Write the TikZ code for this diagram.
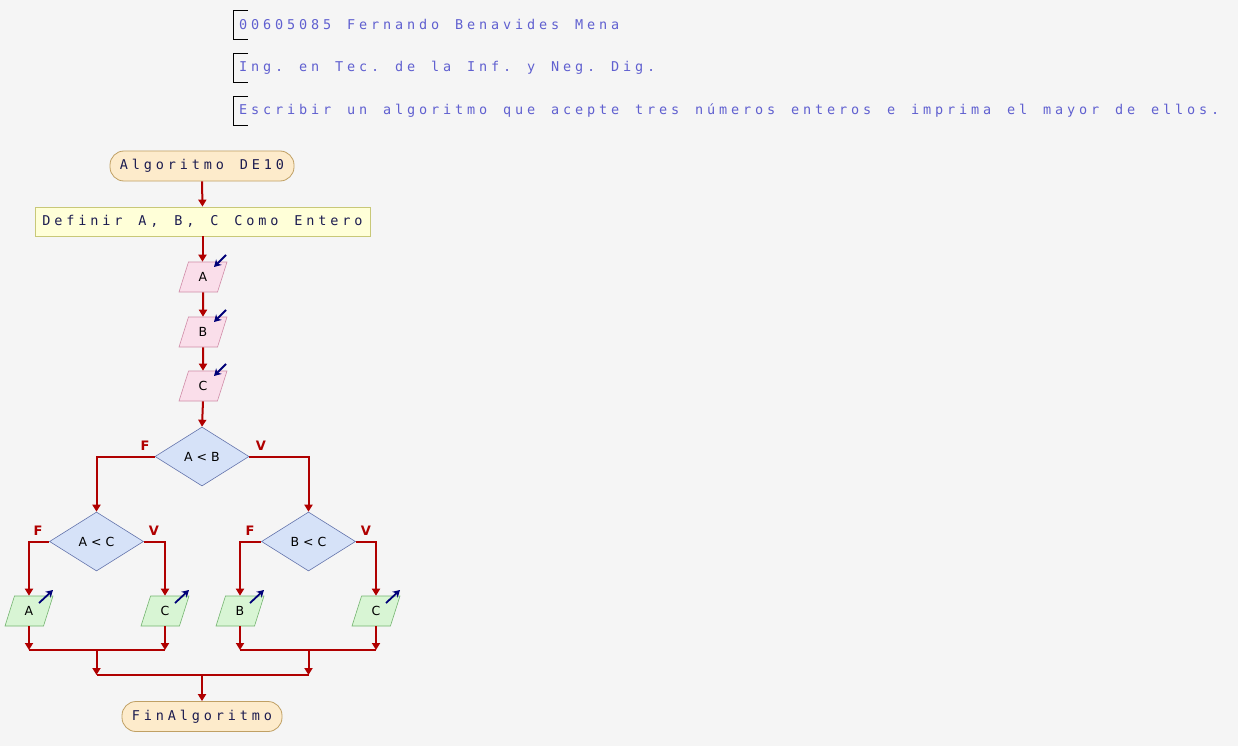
\documentclass[tikz,border=0pt]{standalone}
\usepackage{fontspec}
\usetikzlibrary{arrows.meta,shapes.geometric}
\newfontfamily\codefont{DejaVu Sans Mono}
\newfontfamily\plainfont{DejaVu Sans}
% fixed-pitch, widely tracked text: every character in a box of equal width
\ExplSyntaxOn
\NewDocumentCommand\tracked{m}{ \str_map_inline:nn {#1} { \makebox[12pt]{##1} } }
\ExplSyntaxOff
\definecolor{bgcol}{HTML}{F5F5F5}
\definecolor{flow}{HTML}{B00000}
\definecolor{headtxt}{HTML}{6060D0}
\definecolor{nodetxt}{HTML}{1C1C50}
\definecolor{termfill}{HTML}{FDEBCB}
\definecolor{termline}{HTML}{C0A064}
\definecolor{procfill}{HTML}{FFFFD8}
\definecolor{procline}{HTML}{C8C878}
\definecolor{infill}{HTML}{FADEEA}
\definecolor{inline}{HTML}{D08CA8}
\definecolor{decfill}{HTML}{D6E2F8}
\definecolor{decline}{HTML}{6474AC}
\definecolor{outfill}{HTML}{D8F5D4}
\definecolor{outline}{HTML}{74B470}
\definecolor{iconcol}{HTML}{000078}
\tikzset{
  head/.style={anchor=west, inner sep=0, text=headtxt, font=\codefont\fontsize{13.5}{14}\selectfont},
  bracket/.style={draw=black, line width=0.8pt},
  term/.style={rectangle, rounded corners=14, draw=termline, fill=termfill, line width=0.8pt,
    text=nodetxt, font=\codefont\fontsize{13.5}{14}\selectfont, inner sep=0, minimum height=30},
  proc/.style={rectangle, draw=procline, fill=procfill, line width=0.8pt,
    text=nodetxt, font=\codefont\fontsize{13.5}{14}\selectfont, inner sep=0, minimum height=29},
  para/.style={trapezium, trapezium left angle=73, trapezium right angle=107,
    trapezium stretches=true, minimum width=48, minimum height=30, inner sep=0,
    line width=0.6pt, text=black, font=\plainfont\fontsize{12.5}{13}\selectfont},
  inbox/.style={para, draw=inline, fill=infill},
  outbox/.style={para, draw=outline, fill=outfill},
  decision/.style={diamond, draw=decline, fill=decfill, line width=0.6pt, inner sep=0,
    minimum width=94, minimum height=59, text=black, font=\plainfont\fontsize{12.5}{13}\selectfont},
  flowline/.style={draw=flow, line width=2pt},
  flowarrow/.style={flowline, -{Triangle[length=7pt,width=8pt]}},
  branch/.style={text=flow, font=\plainfont\bfseries\fontsize{13}{13}\selectfont, inner sep=0},
  icon/.style={draw=iconcol, line width=1.8pt, -{Stealth[length=7pt,width=8pt]}}
}
\begin{document}
\begin{tikzpicture}[x=1pt,y=-1pt]
\useasboundingbox[fill=bgcol] (0,0) rectangle (1238,746);

% header lines with brackets
\foreach \yy in {24,67,110}{
  \draw[bracket] (248,\yy-14) -- (233,\yy-14) -- (233,\yy+15) -- (248,\yy+15);
}
\node[head] (h1) at (237,24.5) {\tracked{00605085 Fernando Benavides Mena}};
\node[head] (h2) at (237,67.5) {\tracked{Ing. en Tec. de la Inf. y Neg. Dig.}};
\node[head] (h3) at (237,110.5) {\tracked{Escribir un algoritmo que acepte tres números enteros e imprima el mayor de ellos.}};

% main column
\node[term, minimum width=184] (start) at (202,166) {\tracked{Algoritmo DE10}};
\node[proc, minimum width=335] (def) at (202.5,221.5) {\tracked{Definir A, B, C Como Entero}};
\node[inbox] (inA) at (203,277) {A};
\node[inbox] (inB) at (203,332) {B};
\node[inbox] (inC) at (203,386) {C};
\node[decision] (d1) at (202,456.5) {A < B};
\node[decision] (d2) at (96.5,541.5) {A < C};
\node[decision] (d3) at (308.5,541.5) {B < C};
\node[outbox] (oA) at (29,611) {A};
\node[outbox] (oC1) at (165,611) {C};
\node[outbox] (oB) at (240,611) {B};
\node[outbox] (oC2) at (376,611) {C};
\node[term, minimum width=160] (fin) at (202,716.5) {\tracked{FinAlgoritmo}};

% read / write markers
\foreach \n in {inA,inB,inC}{
  \draw[icon] ([shift={(23,-22)}]\n.center) -- ([shift={(11,-10)}]\n.center);
}
\foreach \n in {oA,oC1,oB,oC2}{
  \draw[icon] ([shift={(10,-8)}]\n.center) -- ([shift={(24,-21)}]\n.center);
}

% connectors
\draw[flowarrow] (start.south) -- (def.north);
\draw[flowarrow] (def.south) -- (def.south |- inA.north);
\draw[flowarrow] (inA.south) -- (inB.north);
\draw[flowarrow] (inB.south) -- (inC.north);
\draw[flowarrow] (inC.south) -- (d1.north);
\draw[flowarrow] (d1.west) -| (d2.north);
\draw[flowarrow] (d1.east) -| (d3.north);
\draw[flowarrow] (d2.west) -| (oA.north);
\draw[flowarrow] (d2.east) -| (oC1.north);
\draw[flowarrow] (d3.west) -| (oB.north);
\draw[flowarrow] (d3.east) -| (oC2.north);

\coordinate (j1) at (96.5,650);
\coordinate (j2) at (308.5,650);
\coordinate (j3) at (202,675);
\draw[flowarrow] (oA.south) -- (oA.south |- j1);
\draw[flowarrow] (oC1.south) -- (oC1.south |- j1);
\draw[flowline] (oA.south |- j1) -- (oC1.south |- j1);
\draw[flowarrow] (oB.south) -- (oB.south |- j2);
\draw[flowarrow] (oC2.south) -- (oC2.south |- j2);
\draw[flowline] (oB.south |- j2) -- (oC2.south |- j2);
\draw[flowarrow] (j1) -- (j1 |- j3);
\draw[flowarrow] (j2) -- (j2 |- j3);
\draw[flowline] (j1 |- j3) -- (j2 |- j3);
\draw[flowarrow] (j3) -- (fin.north);

% branch labels
\node[branch] (f1) at (145,446) {F};
\node[branch] (v1) at (261,446) {V};
\node[branch] (f2) at (38,531) {F};
\node[branch] (v2) at (154,531) {V};
\node[branch] (f3) at (250,531) {F};
\node[branch] (v3) at (366,531) {V};
\end{tikzpicture}
\end{document}
